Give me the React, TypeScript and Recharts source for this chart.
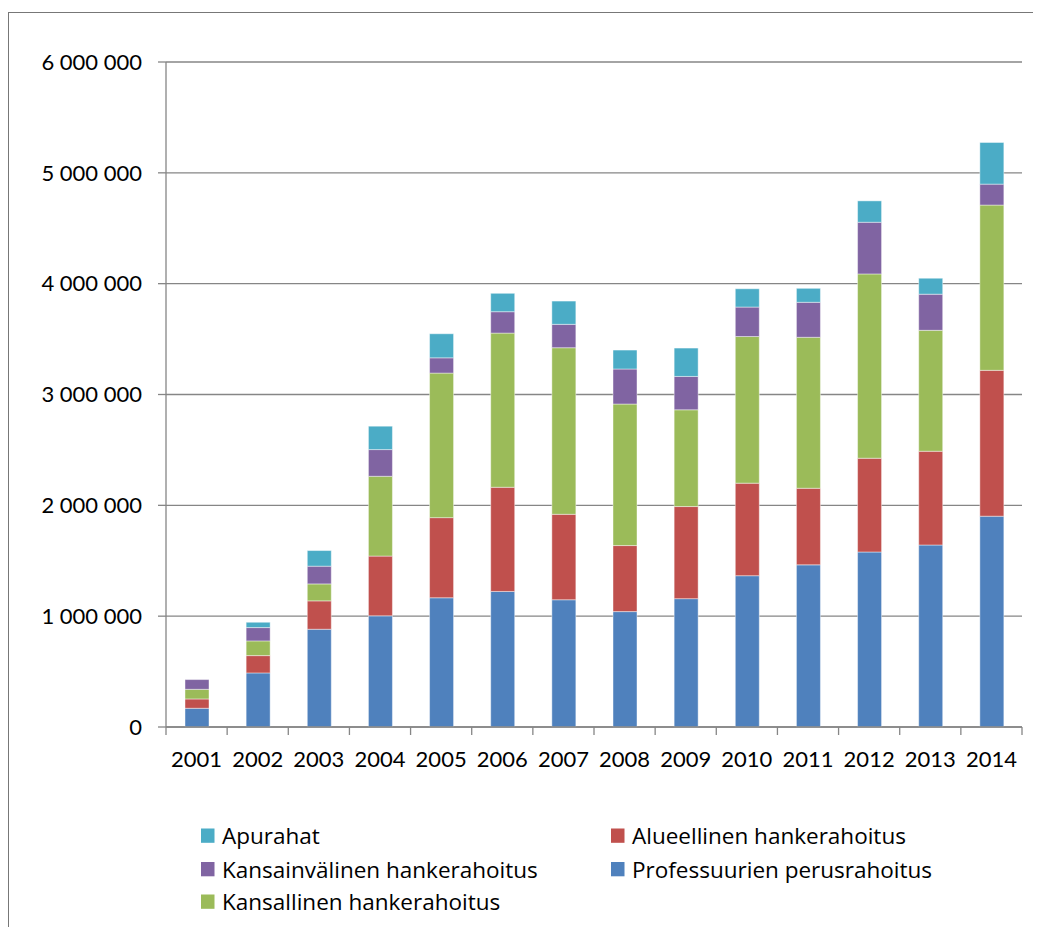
import React from 'react';
import { BarChart, Bar, XAxis, YAxis, CartesianGrid, Legend } from 'recharts';

const years = ['2001', '2002', '2003', '2004', '2005', '2006', '2007', '2008', '2009', '2010', '2011', '2012', '2013', '2014'];
const professuurien = [169000, 488000, 882000, 1003000, 1166000, 1223000, 1148000, 1041000, 1158000, 1365000, 1463000, 1579000, 1642000, 1902000];
const alueellinen = [84000, 156000, 256000, 539000, 723000, 940000, 771000, 596000, 831000, 835000, 691000, 846000, 846000, 1316000];
const kansallinen = [87000, 133000, 153000, 720000, 1304000, 1391000, 1503000, 1277000, 873000, 1323000, 1362000, 1663000, 1091000, 1491000];
const kansainvalinen = [88000, 120000, 160000, 241000, 138000, 193000, 211000, 316000, 301000, 266000, 316000, 466000, 326000, 189000];
const apurahat = [0, 48000, 141000, 211000, 217000, 166000, 210000, 171000, 256000, 165000, 126000, 193000, 144000, 376000];
const yTicks = [0, 1000000, 2000000, 3000000, 4000000, 5000000, 6000000];

const seriesNames = {
  prof: 'Professuurien perusrahoitus',
  alue: 'Alueellinen hankerahoitus',
  kans: 'Kansallinen hankerahoitus',
  kv: 'Kansainvälinen hankerahoitus',
  apu: 'Apurahat',
};
const colors = {
  prof: '#4F81BD',
  alue: '#C0504D',
  kans: '#9BBB59',
  kv: '#8064A2',
  apu: '#4BACC6',
};

const data = years.map((y, i) => ({
  year: y,
  prof: professuurien[i],
  alue: alueellinen[i],
  kans: kansallinen[i],
  kv: kansainvalinen[i],
  apu: apurahat[i],
}));

const FONT = 'Lato, "Open Sans", sans-serif';
const LEGEND_FONT = '"Open Sans", Lato, sans-serif';
const CHART_W = 1033;
const CHART_H = 915;
const M_LEFT = 0;
const Y_W = 158;
const M_RIGHT = 19;
const M_TOP = 54;
const X_H = 60;
const PLOT_H = 665;
const M_BOTTOM = CHART_H - M_TOP - PLOT_H - X_H;
const PLOT_W = CHART_W - Y_W - M_RIGHT;
const BW = PLOT_W / years.length;
const GRAY = '#868686';

const fmt = (v: number) => String(v).replace(/\B(?=(\d{3})+(?!\d))/g, ' ');

const XTick = (props: any) => {
  const { x, y, payload, index } = props;
  const left = x - BW / 2;
  const right = x + BW / 2;
  return (
    <g>
      <line x1={left} x2={left} y1={y} y2={y + 8} stroke={GRAY} strokeWidth={1.3} />
      {index === years.length - 1 && (
        <line x1={right} x2={right} y1={y} y2={y + 8} stroke={GRAY} strokeWidth={1.3} />
      )}
      <text x={x} y={y + 40} textAnchor="middle" fontSize={22} fontFamily={FONT} fill="#000">
        {payload.value}
      </text>
    </g>
  );
};

const legendItems = [
  { key: 'apu', col: 0, row: 0 },
  { key: 'kv', col: 0, row: 1 },
  { key: 'kans', col: 0, row: 2 },
  { key: 'alue', col: 1, row: 0 },
  { key: 'prof', col: 1, row: 1 },
];

const renderLegend = () => {
  const colX = [193, 603];
  const rowBase = [836, 869.5, 902];
  return (
    <svg width={CHART_W} height={CHART_H} style={{ display: 'block' }}>
      {legendItems.map((it) => (
        <g key={it.key}>
          <rect x={colX[it.col]} y={rowBase[it.row] - 15.5} width={13.5} height={14.3} fill={(colors as any)[it.key]} />
          <text x={colX[it.col] + 21} y={rowBase[it.row]} fontSize={22.5} fontFamily={LEGEND_FONT} fill="#000">
            {(seriesNames as any)[it.key]}
          </text>
        </g>
      ))}
    </svg>
  );
};

export default function App() {
  const order = ['prof', 'alue', 'kans', 'kv', 'apu'];
  return (
    <div style={{ position: 'relative', width: CHART_W, height: 919 }}>
      <div
        style={{
          position: 'absolute',
          left: 0,
          top: 4,
          width: CHART_W,
          height: 915,
          boxSizing: 'border-box',
          borderLeft: '1px solid #777',
          borderTop: '1px solid #777',
          borderRight: '1px solid #777',
        }}
      />
      <div style={{ position: 'absolute', left: 0, top: 0 }}>
        <BarChart
          width={CHART_W}
          height={CHART_H}
          data={data}
          margin={{ top: M_TOP, right: M_RIGHT, bottom: M_BOTTOM, left: M_LEFT }}
          barSize={24}
        >
          <CartesianGrid vertical={false} stroke={GRAY} strokeWidth={1.3} />
          <XAxis
            dataKey="year"
            height={X_H}
            axisLine={{ stroke: GRAY, strokeWidth: 1.3 }}
            tickLine={false}
            tickSize={0}
            tickMargin={0}
            tick={<XTick />}
            interval={0}
          />
          <YAxis
            width={Y_W}
            domain={[0, 6000000]}
            ticks={yTicks}
            interval={0}
            tickFormatter={fmt}
            axisLine={{ stroke: GRAY, strokeWidth: 1.3 }}
            tickLine={{ stroke: GRAY, strokeWidth: 1.3 }}
            tickSize={8}
            tickMargin={16}
            tick={{ fontSize: 22, fontFamily: FONT, fill: '#000' }}
          />
          <Legend
            layout="vertical"
            align="center"
            verticalAlign="middle"
            content={renderLegend}
            wrapperStyle={{ left: 0, top: 0, width: CHART_W, height: CHART_H, pointerEvents: 'none' }}
          />
          {order.map((k) => (
            <Bar
              key={k}
              dataKey={k}
              name={(seriesNames as any)[k]}
              stackId="a"
              fill={(colors as any)[k]}
              stroke="rgba(255,255,255,0.55)"
              strokeWidth={0.8}
              isAnimationActive={false}
            />
          ))}
        </BarChart>
      </div>
    </div>
  );
}
